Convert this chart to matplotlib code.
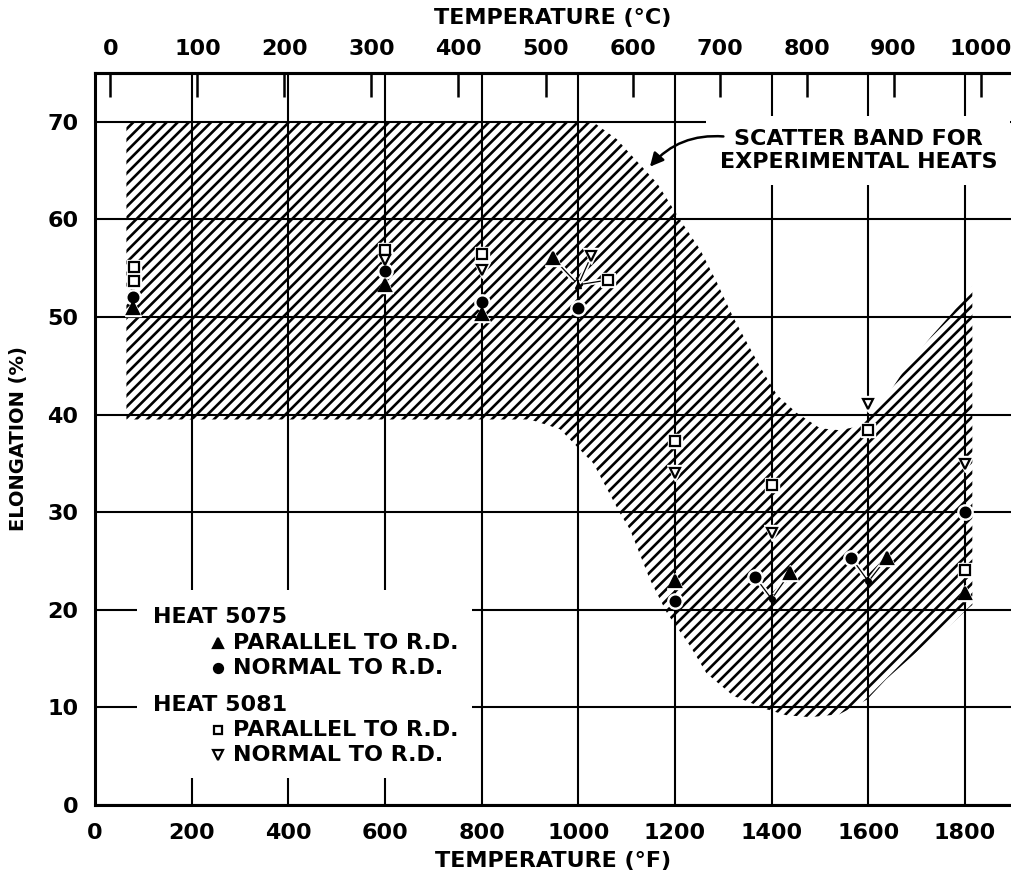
import matplotlib
matplotlib.use("Agg")
import matplotlib.pyplot as plt
from matplotlib.patches import Rectangle

plt.rcParams['font.family'] = ['DejaVu Sans']
plt.rcParams['font.weight'] = 'bold'
plt.rcParams['hatch.linewidth'] = 1.9
plt.rcParams['hatch.color'] = 'black'

# ---------------- data ----------------
x_ticks_f = [0, 200, 400, 600, 800, 1000, 1200, 1400, 1600, 1800]
y_ticks = [0, 10, 20, 30, 40, 50, 60, 70]
c_ticks = [0, 100, 200, 300, 400, 500, 600, 700, 800, 900, 1000]

# Heat 5075, parallel to R.D. (filled up-triangle)
h5075_par_t = [78, 600, 800, 948, 1200, 1438, 1638, 1800]
h5075_par_e = [50.9, 53.3, 50.3, 56.0, 22.9, 23.8, 25.3, 21.7]
# Heat 5075, normal to R.D. (filled circle)
h5075_nor_t = [78, 600, 800, 1000, 1200, 1365, 1565, 1800]
h5075_nor_e = [52.1, 54.7, 51.5, 50.9, 20.9, 23.4, 25.3, 30.0]
# Heat 5081, parallel to R.D. (open square)
h5081_par_t = [80, 80, 600, 800, 1062, 1200, 1400, 1600, 1800]
h5081_par_e = [55.1, 53.7, 56.9, 56.5, 53.8, 37.3, 32.8, 38.4, 24.1]
# Heat 5081, normal to R.D. (open down-triangle)
h5081_nor_t = [600, 800, 1027, 1200, 1400, 1600, 1800]
h5081_nor_e = [55.8, 54.8, 56.3, 34.0, 27.9, 41.1, 34.9]

# callouts: displaced markers -> actual point
callout_mark_t = [948, 1027, 1062, 1365, 1438, 1565, 1638]
callout_mark_e = [56.0, 56.3, 53.8, 23.4, 23.8, 25.3, 25.3]
callout_pt_t = [1000, 1000, 1000, 1400, 1400, 1600, 1600]
callout_pt_e = [53.3, 53.3, 53.3, 21.1, 21.1, 22.9, 22.9]
callout_tri_t = [1000]
callout_tri_e = [53.3]
callout_dot_t = [1400, 1600]
callout_dot_e = [21.1, 22.9]

# scatter band outline
band_upper_t = [65, 1030, 1080, 1100, 1163, 1210, 1252, 1287, 1320, 1376, 1411,
                1451, 1500, 1540, 1580, 1610, 1640, 1680, 1730, 1775, 1815]
band_upper_e = [70, 70, 68.2, 67.1, 63.7, 60.0, 56.9, 53.5, 50.0, 44.9, 42.0,
                40.2, 38.6, 38.4, 38.8, 40.2, 42.0, 45.0, 48.0, 50.5, 53.2]
band_lower_t = [1815, 1803, 1760, 1714, 1637, 1597, 1540, 1480, 1430, 1390, 1320,
                1265, 1231, 1183, 1148, 1107, 1086, 1031, 962, 900, 65]
band_lower_e = [20.5, 20.0, 18.0, 16.3, 12.9, 10.8, 9.3, 9.0, 9.2, 9.8, 11.2,
                13.5, 16.3, 19.7, 23.1, 28.2, 29.9, 35.0, 38.5, 39.5, 39.5]

# ---------------- figure ----------------
fig = plt.figure(figsize=(10.11, 8.82), dpi=100)
ax = fig.add_axes([95 / 1011, 77 / 882, 916 / 1011, 732 / 882])
ax.set_xlim(0, 1895)
ax.set_ylim(0, 75)

ax.set_axisbelow(True)
ax.grid(True, color='black', lw=1.5)
ax.set_xticks(x_ticks_f)
ax.set_yticks(y_ticks)
ax.tick_params(axis='x', length=0, pad=13, labelsize=16)
ax.tick_params(axis='y', length=0, pad=12, labelsize=16)
for s in ['left', 'bottom', 'top']:
    ax.spines[s].set_linewidth(2.2)
ax.spines['right'].set_visible(False)

ax.set_xlabel('TEMPERATURE (°F)', fontsize=16, fontweight='bold', labelpad=6)
ax.set_ylabel('ELONGATION (%)', fontsize=14, fontweight='bold', labelpad=14)

# secondary Celsius axis
sec = ax.secondary_xaxis('top', functions=(lambda f: (f - 32) * 5 / 9,
                                           lambda c: c * 9 / 5 + 32))
sec.set_xticks(c_ticks)
sec.tick_params(direction='in', length=17, width=1.8, pad=10, labelsize=16)
sec.set_xlabel('TEMPERATURE (°C)', fontsize=16, fontweight='bold', labelpad=11)
sec.spines['top'].set_linewidth(2.2)

# scatter band
band_t = band_upper_t + band_lower_t
band_e = band_upper_e + band_lower_e
ax.fill(band_t, band_e, facecolor='none', edgecolor='black', lw=0,
        hatch='///', zorder=1)

# leader lines
for mt, me, pt, pe in zip(callout_mark_t, callout_mark_e, callout_pt_t, callout_pt_e):
    a, b = 0.25, 0.85
    xs = [mt + a * (pt - mt), mt + b * (pt - mt)]
    ys = [me + a * (pe - me), me + b * (pe - me)]
    ax.plot(xs, ys, color='white', lw=3.5, zorder=3, solid_capstyle='butt')
    ax.plot(xs, ys, color='black', lw=0.9, zorder=3.5)


def draw(ts, es, marker, filled, ms):
    ax.plot(ts, es, ls='none', marker=marker, ms=ms + 4, mfc='white',
            mec='white', zorder=4)
    ax.plot(ts, es, ls='none', marker=marker, ms=ms,
            mfc='black' if filled else 'white', mec='black', mew=1.6, zorder=5)


draw(h5075_par_t, h5075_par_e, '^', True, 8)
draw(h5075_nor_t, h5075_nor_e, 'o', True, 7)
draw(h5081_par_t, h5081_par_e, 's', False, 6.5)
draw(h5081_nor_t, h5081_nor_e, 'v', False, 7.5)
ax.plot(callout_tri_t, callout_tri_e, ls='none', marker='^', ms=4.5,
        color='black', zorder=5)
ax.plot(callout_dot_t, callout_dot_e, ls='none', marker='o', ms=4,
        color='black', zorder=5)

# annotation
ax.text(1579, 67.06, 'SCATTER BAND FOR\nEXPERIMENTAL HEATS', ha='center',
        va='center', multialignment='center', fontsize=16, fontweight='bold',
        linespacing=1.2, zorder=6,
        bbox=dict(boxstyle='square,pad=0.6', facecolor='white', edgecolor='none'))
ax.annotate('', xy=(1148, 65.4), xytext=(1300, 68.5),
            arrowprops=dict(arrowstyle='-|>', color='black', lw=1.8,
                            connectionstyle='arc3,rad=0.25', mutation_scale=20,
                            shrinkA=0, shrinkB=0), zorder=6)

# legend
ax.add_patch(Rectangle((87, 2.8), 693, 19.2, facecolor='white', edgecolor='none',
                       zorder=2))
leg_fs = 16
hdr_x, key_x, txt_x = 120, 254, 286
ax.text(hdr_x, 19.26, 'HEAT 5075', fontsize=leg_fs, fontweight='bold',
        va='center', ha='left', zorder=6)
ax.text(hdr_x, 10.25, 'HEAT 5081', fontsize=leg_fs, fontweight='bold',
        va='center', ha='left', zorder=6)
leg_rows = [(16.6, '^', True, 7, 'PARALLEL TO R.D.'),
            (14.04, 'o', True, 6.5, 'NORMAL TO R.D.'),
            (7.68, 's', False, 5.5, 'PARALLEL TO R.D.'),
            (5.12, 'v', False, 6.5, 'NORMAL TO R.D.')]
for y, m, filled, ms, lab in leg_rows:
    ax.plot([key_x], [y], ls='none', marker=m, ms=ms,
            mfc='black' if filled else 'white', mec='black', mew=1.6, zorder=6)
    ax.text(txt_x, y, lab, fontsize=leg_fs, fontweight='bold', va='center',
            ha='left', zorder=6)

fig.savefig('out.png', dpi=100)
